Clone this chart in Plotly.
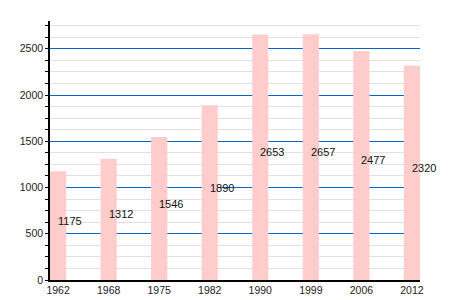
import plotly.graph_objects as go

years = ["1962", "1968", "1975", "1982", "1990", "1999", "2006", "2012"]
population = [1175, 1312, 1546, 1890, 2653, 2657, 2477, 2320]

fig = go.Figure()
fig.add_trace(go.Bar(
    x=list(range(len(years))), y=population,
    width=0.32, marker=dict(color="#ffcccc", line=dict(width=0)),
    hoverinfo="skip",
))

for i, v in enumerate(population):
    fig.add_annotation(
        x=i, y=v / 2, text=str(v), showarrow=False,
        xanchor="left", yanchor="bottom", xshift=-2, yshift=-3,
        font=dict(family="Liberation Sans, Arial, sans-serif", size=11, color="#111111"),
    )

fig.update_layout(
    width=450, height=300,
    margin=dict(l=50, r=30, t=21, b=20, autoexpand=False),
    paper_bgcolor="white", plot_bgcolor="white",
    showlegend=False,
    font=dict(family="Liberation Sans, Arial, sans-serif", size=10.5, color="#222222"),
)
fig.update_xaxes(
    range=[-0.16, 7.16], automargin=False,
    tickmode="array", tickvals=list(range(len(years))), ticktext=years,
    showgrid=False, showline=True, linecolor="black", linewidth=1.5,
    ticks="", zeroline=False, ticklabelstandoff=0,
)
fig.update_yaxes(
    range=[0, 2800], dtick=500, tick0=0, automargin=False,
    showgrid=True, gridcolor="#0066cc", gridwidth=1,
    showline=True, linecolor="black", linewidth=1.5,
    ticks="outside", ticklen=3, tickcolor="black",
    zeroline=False,
    minor=dict(dtick=125, showgrid=True, gridcolor="#e0e0e0", gridwidth=1,
               ticks="outside", ticklen=3, tickcolor="black"),
)

fig.write_html("out.html")
